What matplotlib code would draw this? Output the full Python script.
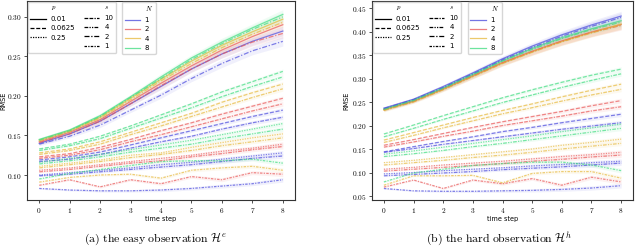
import matplotlib
matplotlib.use("Agg")
import matplotlib.pyplot as plt
from matplotlib.lines import Line2D
from matplotlib.ticker import FuncFormatter
import numpy as np

plt.rcParams['mathtext.fontset'] = 'cm'
plt.rcParams['font.family'] = ['DejaVu Sans']

steps = [0, 1, 2, 3, 4, 5, 6, 7, 8]
N_labels = ['1', '2', '4', '8']
p_labels = ['0.01', '0.0625', '0.25']
s_labels = ['10', '4', '2', '1']

# ---- panel (a): easy observation; rows ordered N = 1, 2, 4, 8 ----
a_top_solid = [
    [0.140, 0.152, 0.168, 0.190, 0.212, 0.234, 0.253, 0.269, 0.282],
    [0.142, 0.154, 0.170, 0.193, 0.216, 0.238, 0.258, 0.275, 0.290],
    [0.144, 0.156, 0.173, 0.197, 0.221, 0.244, 0.264, 0.281, 0.297],
    [0.145, 0.157, 0.175, 0.199, 0.224, 0.248, 0.268, 0.286, 0.303],
]
a_top_dd = [
    [0.139, 0.149, 0.163, 0.182, 0.201, 0.222, 0.241, 0.257, 0.269],
    [0.141, 0.152, 0.168, 0.190, 0.213, 0.234, 0.253, 0.268, 0.279],
    [0.143, 0.155, 0.172, 0.195, 0.219, 0.241, 0.261, 0.278, 0.293],
    [0.144, 0.156, 0.174, 0.198, 0.222, 0.246, 0.266, 0.284, 0.300],
]
a_mid_1 = [
    [0.119, 0.123, 0.129, 0.138, 0.147, 0.156, 0.165, 0.174, 0.182],
    [0.123, 0.127, 0.135, 0.145, 0.156, 0.166, 0.177, 0.187, 0.197],
    [0.128, 0.133, 0.142, 0.154, 0.166, 0.178, 0.192, 0.204, 0.215],
    [0.133, 0.139, 0.149, 0.162, 0.176, 0.190, 0.205, 0.218, 0.231],
]
a_mid_2 = [
    [0.117, 0.120, 0.126, 0.134, 0.142, 0.149, 0.158, 0.166, 0.173],
    [0.121, 0.125, 0.132, 0.142, 0.151, 0.161, 0.171, 0.181, 0.190],
    [0.126, 0.131, 0.139, 0.151, 0.162, 0.174, 0.186, 0.198, 0.209],
    [0.131, 0.137, 0.146, 0.159, 0.172, 0.185, 0.199, 0.212, 0.224],
]
a_low_1 = [
    [0.100, 0.103, 0.106, 0.109, 0.113, 0.116, 0.120, 0.124, 0.128],
    [0.106, 0.109, 0.113, 0.117, 0.121, 0.125, 0.130, 0.134, 0.139],
    [0.111, 0.115, 0.119, 0.125, 0.128, 0.135, 0.141, 0.147, 0.152],
    [0.116, 0.121, 0.126, 0.132, 0.138, 0.144, 0.151, 0.158, 0.165],
]
a_low_2 = [
    [0.099, 0.101, 0.104, 0.107, 0.110, 0.113, 0.117, 0.121, 0.124],
    [0.104, 0.107, 0.111, 0.115, 0.118, 0.123, 0.127, 0.132, 0.136],
    [0.109, 0.113, 0.117, 0.122, 0.126, 0.131, 0.137, 0.142, 0.147],
    [0.114, 0.118, 0.123, 0.129, 0.134, 0.139, 0.146, 0.152, 0.158],
]
a_zig = [
    [0.083, 0.081, 0.080, 0.080, 0.081, 0.083, 0.086, 0.089, 0.094],
    [0.087, 0.094, 0.085, 0.094, 0.089, 0.098, 0.094, 0.103, 0.101],
    [0.091, 0.097, 0.100, 0.101, 0.096, 0.106, 0.109, 0.111, 0.106],
    [0.095, 0.102, 0.107, 0.112, 0.117, 0.118, 0.118, 0.120, 0.115],
]

# ---- panel (b): hard observation ----
b_top_solid = [
    [0.237, 0.256, 0.283, 0.312, 0.342, 0.369, 0.393, 0.414, 0.433],
    [0.234, 0.252, 0.278, 0.306, 0.334, 0.358, 0.380, 0.399, 0.415],
    [0.233, 0.251, 0.277, 0.305, 0.333, 0.357, 0.379, 0.398, 0.416],
    [0.235, 0.254, 0.280, 0.309, 0.338, 0.364, 0.387, 0.406, 0.423],
]
b_top_dd = [
    [0.236, 0.255, 0.281, 0.310, 0.340, 0.366, 0.390, 0.411, 0.430],
    [0.233, 0.251, 0.277, 0.305, 0.333, 0.357, 0.379, 0.398, 0.413],
    [0.232, 0.250, 0.276, 0.304, 0.332, 0.356, 0.378, 0.397, 0.414],
    [0.234, 0.253, 0.279, 0.308, 0.337, 0.362, 0.385, 0.404, 0.420],
]
b_mid_1 = [
    [0.144, 0.155, 0.166, 0.176, 0.187, 0.196, 0.206, 0.215, 0.224],
    [0.158, 0.170, 0.183, 0.196, 0.208, 0.219, 0.230, 0.242, 0.253],
    [0.169, 0.185, 0.201, 0.217, 0.232, 0.246, 0.261, 0.275, 0.288],
    [0.182, 0.201, 0.221, 0.240, 0.259, 0.276, 0.292, 0.307, 0.320],
]
b_mid_2 = [
    [0.143, 0.151, 0.160, 0.168, 0.176, 0.184, 0.192, 0.199, 0.206],
    [0.154, 0.165, 0.177, 0.188, 0.200, 0.210, 0.220, 0.231, 0.240],
    [0.164, 0.179, 0.195, 0.210, 0.225, 0.238, 0.252, 0.265, 0.277],
    [0.176, 0.194, 0.213, 0.231, 0.249, 0.265, 0.281, 0.296, 0.310],
]
b_low_1 = [
    [0.097, 0.100, 0.104, 0.107, 0.110, 0.114, 0.117, 0.121, 0.124],
    [0.107, 0.111, 0.116, 0.120, 0.124, 0.129, 0.134, 0.138, 0.143],
    [0.121, 0.126, 0.132, 0.138, 0.144, 0.150, 0.158, 0.164, 0.171],
    [0.139, 0.146, 0.154, 0.162, 0.170, 0.178, 0.187, 0.195, 0.203],
]
b_low_2 = [
    [0.093, 0.096, 0.099, 0.102, 0.106, 0.109, 0.112, 0.116, 0.120],
    [0.103, 0.107, 0.111, 0.115, 0.119, 0.124, 0.128, 0.133, 0.137],
    [0.116, 0.121, 0.126, 0.132, 0.137, 0.143, 0.150, 0.156, 0.162],
    [0.134, 0.140, 0.147, 0.155, 0.162, 0.170, 0.178, 0.186, 0.194],
]
b_zig = [
    [0.066, 0.061, 0.060, 0.060, 0.061, 0.062, 0.064, 0.067, 0.072],
    [0.069, 0.084, 0.066, 0.084, 0.076, 0.087, 0.073, 0.090, 0.080],
    [0.073, 0.093, 0.093, 0.094, 0.078, 0.098, 0.102, 0.102, 0.088],
    [0.080, 0.099, 0.107, 0.115, 0.119, 0.122, 0.122, 0.116, 0.104],
]

# spread (std) bands per group
a_top_std = [0.002, 0.002, 0.003, 0.003, 0.004, 0.004, 0.005, 0.005, 0.006]
a_other_std = [0.001, 0.001, 0.0015, 0.0015, 0.002, 0.002, 0.0025, 0.0025, 0.003]
b_top_std = [0.003, 0.003, 0.004, 0.005, 0.006, 0.007, 0.008, 0.009, 0.010]
b_other_std = [0.0015, 0.0015, 0.002, 0.0025, 0.003, 0.0035, 0.004, 0.0045, 0.005]

colors = ['#4646dc', '#e85454', '#e6b83a', '#3cdc7e']

p_styles = ['-', (0, (3.2, 1.4)), (0, (1, 1))]
s_styles = [(0, (3, 1, 3, 1, 1, 1)), (0, (3, 1, 1, 1, 1, 1)),
            (0, (4, 1.4, 1, 1.4)), (0, (2, 1, 1, 1))]

fig = plt.figure(figsize=(6.4, 2.52), dpi=100)
ax_a = fig.add_axes([27/640, 1-200/252, 268/640, 199/252])
ax_b = fig.add_axes([372/640, 1-200/252, 261/640, 199/252])


def draw(ax, groups, top_std, other_std):
    for gi, (data, ls) in enumerate(groups):
        std = top_std if gi < 2 else other_std
        for ni, row in enumerate(data):
            y = np.array(row)
            sd = np.array(std)
            ax.fill_between(steps, y - sd, y + sd, color=colors[ni],
                            alpha=0.08, linewidth=0)
            ax.plot(steps, y, color=colors[ni], linestyle=ls, lw=0.9,
                    alpha=0.68)


groups_a = [(a_top_solid, p_styles[0]), (a_top_dd, s_styles[2]),
            (a_mid_1, p_styles[1]), (a_mid_2, s_styles[0]),
            (a_low_1, p_styles[2]), (a_low_2, s_styles[1]),
            (a_zig, s_styles[3])]
groups_b = [(b_top_solid, p_styles[0]), (b_top_dd, s_styles[2]),
            (b_mid_1, p_styles[1]), (b_mid_2, s_styles[0]),
            (b_low_1, p_styles[2]), (b_low_2, s_styles[1]),
            (b_zig, s_styles[3])]

draw(ax_a, groups_a, a_top_std, a_other_std)
draw(ax_b, groups_b, b_top_std, b_other_std)

ax_a.set_ylim(0.0684, 0.320)
ax_a.set_yticks([0.10, 0.15, 0.20, 0.25, 0.30])
ax_b.set_ylim(0.0415, 0.465)
ax_b.set_yticks([0.05, 0.10, 0.15, 0.20, 0.25, 0.30, 0.35, 0.40, 0.45])

fmt = FuncFormatter(lambda v, pos: r'$%.2f$' % v)
for ax, lx in [(ax_a, -0.078), (ax_b, -0.088)]:
    ax.set_xlim(-0.4, 8.4)
    ax.set_xticks(steps)
    ax.set_xticklabels([r'$%d$' % t for t in steps])
    ax.yaxis.set_major_formatter(fmt)
    ax.tick_params(labelsize=5.3, length=2.5, width=0.6, pad=1.5,
                   color='#333333')
    for sp in ax.spines.values():
        sp.set_linewidth(0.8)
        sp.set_color('#333333')
    ax.set_ylabel('RMSE', fontsize=4.7)
    ax.yaxis.set_label_coords(lx, 0.5)
    ax.set_xlabel('time step', fontsize=4.7)
    ax.xaxis.set_label_coords(0.5, -0.08)

    def blank():
        return Line2D([], [], color='none')

    h1 = [blank()] + [Line2D([], [], color='k', lw=0.9, linestyle=s)
                      for s in p_styles] + [blank()]
    l1 = [r'$p$'] + p_labels + ['']
    h2 = [blank()] + [Line2D([], [], color='k', lw=0.9, linestyle=s)
                      for s in s_styles]
    l2 = [r'$s$'] + s_labels
    leg1 = ax.legend(h1 + h2, l1 + l2, ncol=2, loc='upper left',
                     bbox_to_anchor=(0, 1), borderaxespad=0.1,
                     fontsize=5, handlelength=2.2, labelspacing=0.5,
                     columnspacing=1.3, handletextpad=0.7, borderpad=0.4)
    ax.add_artist(leg1)
    h3 = [blank()] + [Line2D([], [], color=c, lw=0.9, alpha=0.75)
                      for c in colors]
    l3 = [r'$N$'] + N_labels
    xN = 0.351 if ax is ax_a else 0.364
    ax.legend(h3, l3, loc='upper left', bbox_to_anchor=(xN, 1),
              borderaxespad=0.1, fontsize=5, handlelength=2.2,
              labelspacing=0.5, handletextpad=0.7, borderpad=0.4)

fig.text(155/640, 1-239/252,
         r'$\mathrm{(a)\ the\ easy\ observation\ }\mathcal{H}^e$',
         ha='center', va='center', fontsize=8.5)
fig.text(499/640, 1-239/252,
         r'$\mathrm{(b)\ the\ hard\ observation\ }\mathcal{H}^h$',
         ha='center', va='center', fontsize=8.5)

fig.savefig('out.png', dpi=100)
